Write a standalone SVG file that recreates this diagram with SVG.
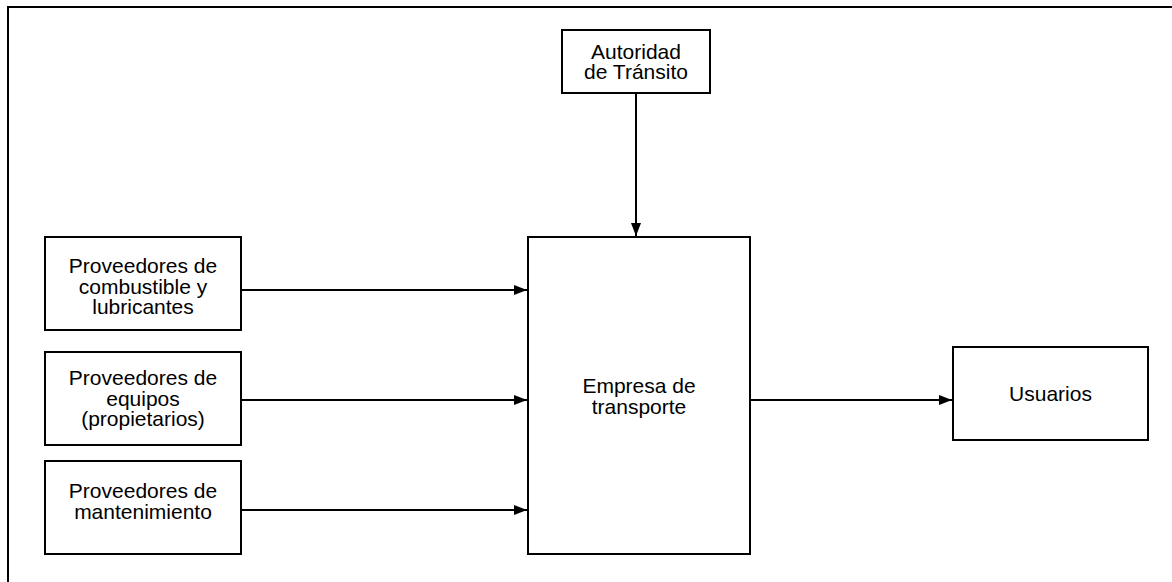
<svg xmlns="http://www.w3.org/2000/svg" width="1172" height="582" viewBox="0 0 1172 582">
<style>
.box{fill:#fff;stroke:#000;stroke-width:2}
.t{font-family:"Liberation Sans",Arial,sans-serif;font-size:21px;fill:#000;text-anchor:middle}
.c{stroke:#000;stroke-width:2;fill:none}
</style>
<defs>
<marker id="ah" markerWidth="13" markerHeight="10" refX="13" refY="5" orient="auto" markerUnits="userSpaceOnUse">
<path d="M0,0 L13,5 L0,10 Z" fill="#000"/>
</marker>
</defs>
<rect width="1172" height="582" fill="#fff"/>
<path d="M8,582 V7 H1172" fill="none" stroke="#000" stroke-width="2"/>
<g id="connectors">
<line class="c" x1="636" y1="93" x2="636" y2="236" marker-end="url(#ah)"/>
<line class="c" x1="241" y1="290" x2="527" y2="290" marker-end="url(#ah)"/>
<line class="c" x1="241" y1="400" x2="527" y2="400" marker-end="url(#ah)"/>
<line class="c" x1="241" y1="510" x2="527" y2="510" marker-end="url(#ah)"/>
<line class="c" x1="750" y1="400" x2="952" y2="400" marker-end="url(#ah)"/>
</g>
<g id="autoridad">
<rect class="box" x="562" y="30" width="148" height="63"/>
<text class="t" x="636" y="58.5">Autoridad</text>
<text class="t" x="636" y="79">de Tránsito</text>
</g>
<g id="combustible">
<rect class="box" x="45" y="237" width="196" height="93"/>
<text class="t" x="143" y="273">Proveedores de</text>
<text class="t" x="143" y="293.5">combustible y</text>
<text class="t" x="143" y="314">lubricantes</text>
</g>
<g id="equipos">
<rect class="box" x="45" y="352" width="196" height="93"/>
<text class="t" x="143" y="385">Proveedores de</text>
<text class="t" x="143" y="405.5">equipos</text>
<text class="t" x="143" y="426">(propietarios)</text>
</g>
<g id="mantenimiento">
<rect class="box" x="45" y="461" width="196" height="93"/>
<text class="t" x="143" y="498">Proveedores de</text>
<text class="t" x="143" y="518.5">mantenimiento</text>
</g>
<g id="empresa">
<rect class="box" x="528" y="237" width="222" height="317"/>
<text class="t" x="639" y="393">Empresa de</text>
<text class="t" x="639" y="413.5">transporte</text>
</g>
<g id="usuarios">
<rect class="box" x="953" y="347" width="195" height="93"/>
<text class="t" x="1050.5" y="401">Usuarios</text>
</g>
</svg>
